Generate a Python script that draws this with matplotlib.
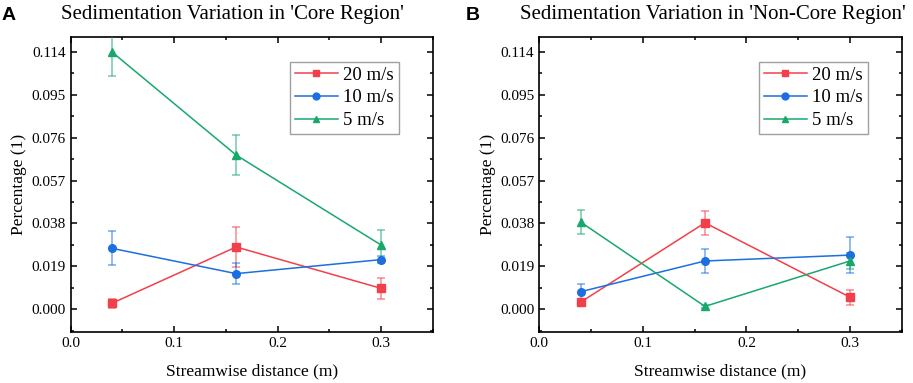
import matplotlib.pyplot as plt
from matplotlib.ticker import MultipleLocator

# Datos
distancia = [0.04, 0.16, 0.30]
velocidades = ['20 m/s', '10 m/s', '5 m/s']

core_20 = [0.0027, 0.0276, 0.0093]
core_20_err = [0.0019, 0.0088, 0.0046]
core_10 = [0.0270, 0.0158, 0.0220]
core_10_err = [0.0075, 0.0045, 0.0016]
core_5 = [0.1139, 0.0683, 0.0285]
core_5_err = [0.0104, 0.0090, 0.0065]

noncore_20 = [0.0032, 0.0383, 0.0054]
noncore_20_err = [0.0015, 0.0052, 0.0033]
noncore_10 = [0.0078, 0.0214, 0.0240]
noncore_10_err = [0.0033, 0.0055, 0.0078]
noncore_5 = [0.0386, 0.0013, 0.0214]
noncore_5_err = [0.0052, 0.0008, 0.0036]

yticks = [0.000, 0.019, 0.038, 0.057, 0.076, 0.095, 0.114]
xticks = [0.0, 0.1, 0.2, 0.3]

colores = ['#f2404a', '#1b6fe0', '#18a86c']
marcadores = ['s', 'o', '^']

plt.rcParams['font.family'] = ['Liberation Serif', 'DejaVu Serif']

fig = plt.figure(figsize=(9.13, 3.83), dpi=100)
ax1 = fig.add_axes([0.0774, 0.134, 0.3965, 0.769])
ax2 = fig.add_axes([0.5907, 0.134, 0.3969, 0.769])

paneles = [
    (ax1, [core_20, core_10, core_5], [core_20_err, core_10_err, core_5_err]),
    (ax2, [noncore_20, noncore_10, noncore_5], [noncore_20_err, noncore_10_err, noncore_5_err]),
]

for ax, series, errores in paneles:
    lineas = []
    for y, e, c, m, lab in zip(series, errores, colores, marcadores, velocidades):
        cont = ax.errorbar(distancia, y, yerr=e, color=c, marker=m, markersize=5.5,
                           linewidth=1.1, elinewidth=1.1, capsize=3, capthick=1.1,
                           ecolor=c + '99', label=lab, zorder=3)
        lineas.append(cont[0])
    ax.set_xlim(0, 0.35)
    ax.set_ylim(-0.0099, 0.1205)
    ax.set_xticks(xticks)
    ax.set_xticklabels(['0.0', '0.1', '0.2', '0.3'])
    ax.set_yticks(yticks)
    ax.set_yticklabels(['%.3f' % v for v in yticks])
    ax.xaxis.set_minor_locator(MultipleLocator(0.05))
    ax.yaxis.set_minor_locator(MultipleLocator(0.0095))
    ax.tick_params(which='both', direction='in', top=True, right=True, labelsize=11, width=1.1)
    ax.tick_params(which='major', length=4.5)
    ax.tick_params(which='minor', length=2.5)
    for s in ax.spines.values():
        s.set_linewidth(1.2)
    ax.set_xlabel('Streamwise distance (m)', fontsize=12.5, labelpad=10)
    ax.set_ylabel('Percentage (1)', fontsize=12.5, labelpad=3)
    leg = ax.legend(handles=lineas, labels=velocidades, loc='upper right',
                    bbox_to_anchor=(0.906, 0.916), borderaxespad=0, fontsize=13.5,
                    frameon=True, fancybox=False, edgecolor='#888888', markerscale=0.9,
                    handlelength=2.3, handletextpad=0.3, borderpad=0.25, labelspacing=0.3)
    leg.get_frame().set_linewidth(1.0)

# Títulos y letras de panel
fig.text(232.5 / 913, 1 - 14 / 383, "Sedimentation Variation in 'Core Region'",
         fontsize=15, ha='center', va='center')
fig.text(712.5 / 913, 1 - 14 / 383, "Sedimentation Variation in 'Non-Core Region'",
         fontsize=15, ha='center', va='center')
fig.text(2 / 913, 1 - 16 / 383, 'A', fontsize=14, fontweight='bold',
         family='Liberation Sans', ha='left', va='center')
fig.text(466 / 913, 1 - 16 / 383, 'B', fontsize=14, fontweight='bold',
         family='Liberation Sans', ha='left', va='center')

plt.savefig('out.png', dpi=100)
